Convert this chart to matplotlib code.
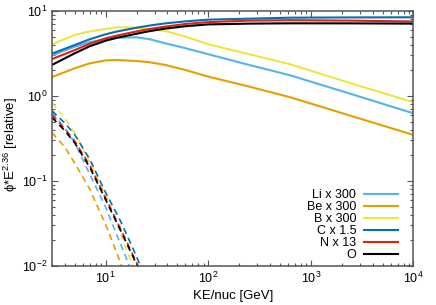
import matplotlib
matplotlib.use("Agg")
import matplotlib.pyplot as plt

plt.rcParams["font.family"] = ["Liberation Sans", "DejaVu Sans"]
plt.rcParams["mathtext.default"] = "regular"
plt.rcParams["font.size"] = 9

# energies for the solid (total) curves, GeV/nuc
x_solid = [3, 5, 7, 10, 13, 20, 27, 38, 60, 100, 250, 630, 2500, 10000]
li_solid = [3.0, 3.8, 4.3, 4.65, 4.85, 4.9, 4.65, 4.17, 3.65, 3.1, 2.32, 1.75, 1.05, 0.625]
be_solid = [1.67, 2.12, 2.42, 2.62, 2.65, 2.58, 2.49, 2.32, 2.02, 1.69, 1.29, 0.966, 0.58, 0.348]
b_solid = [4.06, 5.22, 5.75, 6.14, 6.43, 6.37, 6.1, 5.82, 4.99, 4.06, 3.1, 2.36, 1.40, 0.843]
c_solid = [3.15, 3.98, 4.65, 5.32, 5.75, 6.35, 6.75, 7.15, 7.55, 7.91, 8.12, 8.34, 8.4, 8.43]
n_solid = [2.72, 3.47, 4.12, 4.77, 5.15, 5.75, 6.15, 6.55, 7.03, 7.4, 7.7, 7.8, 7.7, 7.52]
o_solid = [2.32, 3.18, 3.85, 4.47, 4.85, 5.4, 5.8, 6.2, 6.62, 6.95, 7.1, 7.16, 7.15, 7.1]

# energies for the dashed (low energy) curves
x_dash = [3, 4, 5, 7, 10, 14, 20, 25]
li_dash = [0.64, 0.42, 0.28, 0.12, 0.049, 0.018, 0.0062, 0.003]
be_dash = [0.37, 0.25, 0.162, 0.08, 0.0306, 0.0109, 0.003, 0.0012]
b_dash = [0.83, 0.55, 0.37, 0.165, 0.068, 0.024, 0.0075, 0.0035]
c_dash = [0.67, 0.48, 0.35, 0.18, 0.073, 0.0336, 0.0129, 0.0065]
n_dash = [0.60, 0.41, 0.295, 0.152, 0.063, 0.0273, 0.011, 0.0053]
o_dash = [0.56, 0.39, 0.28, 0.145, 0.06, 0.026, 0.0105, 0.005]

labels = ["Li x 300", "Be x 300", "B x 300", "C x 1.5", "N x 13", "O"]
colors = ["#56B4E9", "#E69F00", "#F0E442", "#0072B2", "#E51E10", "black"]
solids = [li_solid, be_solid, b_solid, c_solid, n_solid, o_solid]
dashes = [li_dash, be_dash, b_dash, c_dash, n_dash, o_dash]

fig = plt.figure(figsize=(4.36, 3.05), dpi=100)
ax = fig.add_axes([0.1193, 0.1279, 0.8290, 0.8361])

for lab, col, ys, yd in zip(labels, colors, solids, dashes):
    ax.plot(x_solid, ys, color=col, lw=1.5, label=lab)
    ax.plot(x_dash, yd, color=col, lw=1.2, dashes=(3.8, 2.6))

ax.set_xscale("log")
ax.set_yscale("log")
ax.set_xlim(3, 1e4)
ax.set_ylim(1e-2, 10)

ax.set_xlabel("KE/nuc [GeV]", fontsize=9.5, labelpad=3)
ax.set_ylabel("ϕ*E$^{2.36}$ [relative]", fontsize=9.5)
ax.yaxis.set_label_coords(-0.088, 0.475)

ax.tick_params(which="both", direction="in", top=True, right=True,
               colors="#555555", labelcolor="black", labelsize=9)
ax.tick_params(which="major", length=4.5, width=0.8)
ax.tick_params(which="minor", length=2.5, width=0.8)
for s in ax.spines.values():
    s.set_color("#555555")
    s.set_linewidth(1.1)

ax.legend(loc="lower right", bbox_to_anchor=(0.97, 0.0), frameon=False,
          markerfirst=False, handlelength=2.7, labelspacing=0.0,
          handletextpad=0.6, fontsize=9, borderaxespad=0)

fig.savefig("out.png", dpi=100)
